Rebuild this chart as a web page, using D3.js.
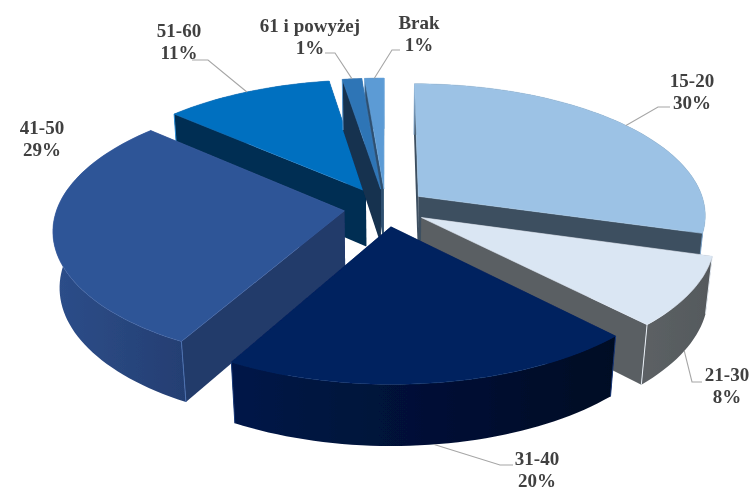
<!DOCTYPE html>
<html><head><meta charset="utf-8">
<script src="https://cdn.jsdelivr.net/npm/d3@7/dist/d3.min.js"></script>
<style>html,body{margin:0;padding:0;background:#fff}svg{display:block}</style>
</head><body><svg id="c" width="753" height="491"></svg>
<script>
// DATA (slice sizes; the labels show them rounded)
const categories = ["15-20","21-30","31-40","41-50","51-60","61 i powyżej","Brak"];
const values = [29.5,8.4,20.1,28.6,10.9,1.25,1.25];
// STYLE (same order as categories)
const topColors  = ["#9CC2E5","#DAE6F3","#00205F","#2F5597","#0070C0","#2E75B6","#5B9BD5"];
const wallColors = ["#3E4F60","#5A5F63","#000F2E","#223A6B","#002D52","#14304F","#2F5070"];
const rimFrom    = ["#3E4F60","#5C6165","#001748","#2D4E8A","#002D52","#14304F","#2F5070"];
const rimTo      = ["#3E4F60","#55595C","#000A24","#243E72","#002D52","#14304F","#2F5070"];
const edgeColors = ["#7FA6CC","#E8EEF5","#1A3A7A","#4A70B0","#2E8FD8","#5B9BD5","#86B5E0"];
const topEdge    = ["#A6C9E8","#E2EBF6","#0A2A6A","#3A60A2","#1A7CC8","#3A80C0","#68A5DC"];
const paintOrder = [6,4,5,0,1,3,2];
// LABEL LAYOUT
const labelX = [692,727,537,42,179,310,419];
const labelY = [81,375,459,128,31,26,23];
const leaderElbow = [[658,107,670],[692,382,702],[500,465,513],null,[208,60,192],[335,53,325],[392,50,400]];
const leaderDepth = [0,1,1,0,0,0,0];

// 3D PROJECTION
const cx=385.5, cy=207.6, A=287, B=130.6, H=57, persp=0.135, depthP=0.02, explode=0.145;
const project=(x,y,d)=>{const w=1+persp*y+depthP*d;return [cx+A*x/w, cy-B*y/w+H*d/w];};

const svg=d3.select("#c");
const defs=svg.append("defs");
defs.append("filter").attr("id","soft").attr("x","-5%").attr("y","-5%").attr("width","110%").attr("height","110%")
  .append("feGaussianBlur").attr("stdDeviation",0.45);
const root=svg.append("g").attr("filter","url(#soft)");
const line=d3.line();

const pie=d3.pie().sort(null).value(d=>d)(values);

categories.forEach((c,i)=>{
  const g=defs.append("linearGradient").attr("id","rim"+i);
  g.append("stop").attr("offset","0%").attr("stop-color",rimFrom[i]);
  g.append("stop").attr("offset","100%").attr("stop-color",rimTo[i]);
});

paintOrder.forEach(i=>{
  const s=pie[i], mid=(s.startAngle+s.endAngle)/2;
  const ox=explode*Math.sin(mid), oy=explode*Math.cos(mid);
  const n=Math.max(4,Math.ceil((s.endAngle-s.startAngle)/0.03));
  const angles=d3.range(n+1).map(k=>s.startAngle+(s.endAngle-s.startAngle)*k/n);
  const rim=d=>angles.map(a=>project(ox+Math.sin(a),oy+Math.cos(a),d));
  const apex=d=>project(ox,oy,d);
  const t=rim(0), b=rim(1);
  const walls=[
    {pts:[apex(0),t[0],b[0],apex(1)],y:oy+Math.cos(s.startAngle)/2,fill:wallColors[i]},
    {pts:[apex(0),t[n],b[n],apex(1)],y:oy+Math.cos(s.endAngle)/2,fill:wallColors[i]}
  ].sort((p,q)=>q.y-p.y);
  const g=root.append("g");
  walls.forEach(w=>g.append("path").attr("d",line(w.pts)+"Z").attr("fill",w.fill));
  g.append("path").attr("d",line(t.concat(b.slice().reverse()))+"Z")
    .attr("fill",`url(#rim${i})`);
  [0,n].forEach(k=>g.append("path").attr("d",line([t[k],b[k]]))
    .attr("stroke",edgeColors[i]).attr("stroke-width",1).attr("fill","none"));
  g.append("path").attr("d",line([apex(0),...t])+"Z").attr("fill",topColors[i])
    .attr("stroke",topEdge[i]).attr("stroke-width",0.6).attr("stroke-linejoin","round");
});

// leaders and labels
categories.forEach((c,i)=>{
  const s=pie[i], mid=(s.startAngle+s.endAngle)/2;
  const ox=explode*Math.sin(mid), oy=explode*Math.cos(mid);
  const el=leaderElbow[i];
  if(el){
    const p=project(ox+Math.sin(mid),oy+Math.cos(mid),leaderDepth[i]);
    root.append("path").attr("d",line([p,[el[0],el[1]],[el[2],el[1]]]))
      .attr("fill","none").attr("stroke","#A6A6A6").attr("stroke-width",1.1);
  }
  const t=root.append("text").attr("text-anchor","middle")
    .attr("font-family","'Liberation Serif',serif").attr("font-weight","bold")
    .attr("font-size",19).attr("fill","#404040");
  t.append("tspan").attr("x",labelX[i]).attr("y",labelY[i]+6).text(c);
  t.append("tspan").attr("x",labelX[i]).attr("y",labelY[i]+28).text(Math.round(values[i])+"%");
});
</script></body></html>
